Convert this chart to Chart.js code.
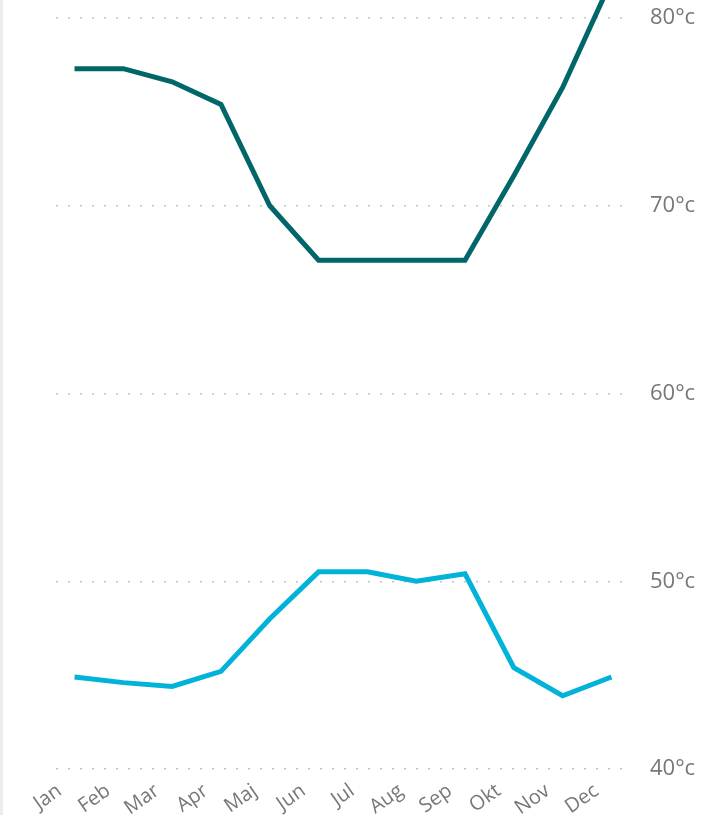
<!DOCTYPE html>
<html>
<head>
<meta charset="utf-8">
<script src="https://cdn.jsdelivr.net/npm/chart.js@4.4.1/dist/chart.umd.min.js"></script>
<style>
  html, body { margin: 0; padding: 0; background: #ffffff; }
  #wrap { position: relative; width: 703px; height: 815px; }
  #strip { position: absolute; left: 0; top: 0; width: 3px; height: 815px; background: #ececec; }
  canvas { position: absolute; left: 0; top: 0; }
</style>
</head>
<body>
<div id="wrap">
  <canvas id="c" width="703" height="815"></canvas>
  <div id="strip"></div>
</div>
<script>
// ---- data ----
const months = ['Jan', 'Feb', 'Mar', 'Apr', 'Maj', 'Jun', 'Jul', 'Aug', 'Sep', 'Okt', 'Nov', 'Dec'];
const highSeries = [77.3, 77.3, 76.6, 75.4, 70.0, 67.1, 67.1, 67.1, 67.1, 71.6, 76.3, 82.0];
const lowSeries  = [44.9, 44.6, 44.4, 45.2, 48.0, 50.5, 50.5, 50.0, 50.4, 45.4, 43.9, 44.9];
const yTicks = [40, 50, 60, 70, 80];
const unit = '°c';

const toPoints = arr => arr.map((v, i) => ({ x: i, y: v }));
const fam = "'Segoe UI', 'Open Sans', sans-serif";

new Chart(document.getElementById('c'), {
  type: 'line',
  data: {
    datasets: [
      {
        label: 'High',
        data: toPoints(highSeries),
        borderColor: '#01666A',
        borderWidth: 5,
        pointRadius: 0,
        pointHoverRadius: 0,
        tension: 0,
        clip: false
      },
      {
        label: 'Low',
        data: toPoints(lowSeries),
        borderColor: '#01B2D9',
        borderWidth: 5,
        pointRadius: 0,
        pointHoverRadius: 0,
        tension: 0,
        clip: false
      }
    ]
  },
  options: {
    responsive: false,
    animation: false,
    layout: { autoPadding: false, padding: { top: 18, left: 56, right: 0, bottom: 0 } },
    plugins: { legend: { display: false }, tooltip: { enabled: false } },
    scales: {
      x: {
        type: 'linear',
        min: -0.38,
        max: 11.38,
        grid: { display: false, drawTicks: false },
        border: { display: false },
        afterBuildTicks: s => { s.ticks = months.map((_, i) => ({ value: i })); },
        afterFit: s => { s.height = 46; s.paddingLeft = 0; s.paddingRight = 0; },
        ticks: {
          autoSkip: false,
          minRotation: 35,
          maxRotation: 35,
          padding: 10,
          labelOffset: -15,
          color: '#777777',
          font: { family: fam, size: 20 },
          callback: v => months[v]
        }
      },
      y: {
        position: 'right',
        min: yTicks[0],
        max: yTicks[yTicks.length - 1],
        afterBuildTicks: s => { s.ticks = yTicks.map(v => ({ value: v })); },
        afterFit: s => { s.width = 73; s.paddingTop = 0; s.paddingBottom = 0; },
        grid: { color: '#c4c4c4', lineWidth: 1.5, drawTicks: false },
        border: { display: false, dash: [2, 10] },
        ticks: {
          padding: 20,
          color: '#777777',
          font: { family: fam, size: 22 },
          callback: v => v + unit
        }
      }
    }
  }
});
</script>
</body>
</html>
